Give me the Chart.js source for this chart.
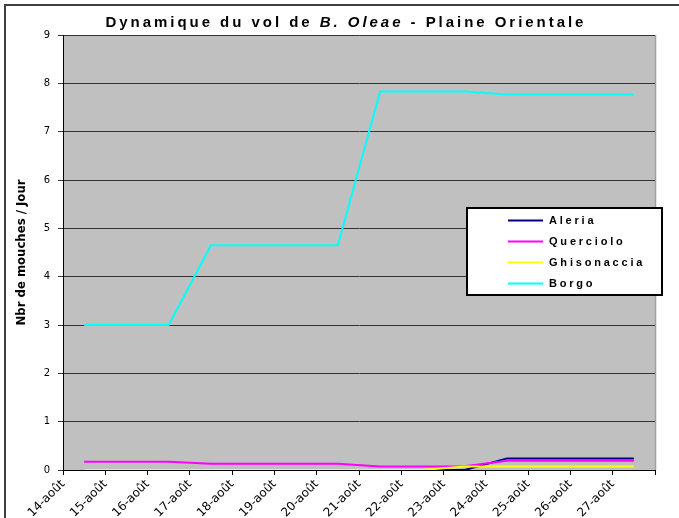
<!DOCTYPE html>
<html><head><meta charset="utf-8">
<script src="https://cdn.jsdelivr.net/npm/chart.js@4/dist/chart.umd.min.js"></script>
<style>html,body{margin:0;padding:0;background:#fff}#wrap{width:679px;height:518px;position:relative}</style>
</head><body><div id="wrap"><canvas id="c" width="679" height="518"></canvas></div>
<script>
// ---- data ----
const categories = ['14-août','15-août','16-août','17-août','18-août','19-août','20-août','21-août','22-août','23-août','24-août','25-août','26-août','27-août'];
const seriesNames = ['Aleria','Querciolo','Ghisonaccia','Borgo'];
const aleria      = [0,0,0,0,0,0,0,0,0,0,0.24,0.24,0.24,0.24];
const querciolo   = [0.17,0.17,0.17,0.13,0.13,0.13,0.13,0.07,0.07,0.08,0.19,0.19,0.19,0.19];
const ghisonaccia = [0,0,0,0,0,0,0,0,0,0.07,0.07,0.07,0.07,0.07];
const borgo       = [3,3,3,4.65,4.65,4.65,4.65,7.83,7.83,7.83,7.77,7.77,7.77,7.77];
const yTicks = [0,1,2,3,4,5,6,7,8,9];
const titleParts = [['Dynamique du vol de ', false], ['B. Oleae', true], [' - Plaine Orientale', false]];
const yAxisTitle = 'Nbr de mouches / Jour';
const seriesColors = ['#000080','#FF00FF','#FFFF00','#00FFFF'];

const seriesValues = [aleria, querciolo, ghisonaccia, borgo];
const toPoints = arr => arr.map((v,i)=>({x:i+0.5,y:v}));

const bgPlugin = {
  id:'bg',
  beforeDraw(chart){
    const {ctx, chartArea:a} = chart;
    ctx.save();
    ctx.fillStyle='#fff'; ctx.fillRect(0,0,chart.width,chart.height);
    ctx.fillStyle='#C0C0C0'; ctx.fillRect(a.left,a.top,a.right-a.left,a.bottom-a.top);
    ctx.strokeStyle='#a0a0a0'; ctx.lineWidth=1.5;
    ctx.beginPath(); ctx.moveTo(a.right+0.5,a.top); ctx.lineTo(a.right+0.5,a.bottom); ctx.stroke();
    ctx.strokeStyle='#404040'; ctx.lineWidth=2;
    ctx.strokeRect(5,5,chart.width+20,chart.height+20);
    ctx.restore();
  }
};

const decoPlugin = {
  id:'deco',
  afterDraw(chart){
    const ctx = chart.ctx;
    ctx.save();
    // title
    const fam = '"Liberation Sans", Arial, sans-serif';
    const fontFor = it => (it ? 'italic ' : '') + 'bold 15px ' + fam;
    ctx.letterSpacing = '0px';
    let w0 = 0, n = 0;
    titleParts.forEach(([t,it])=>{ ctx.font = fontFor(it); w0 += ctx.measureText(t).width; n += t.length; });
    const targetW = 481;
    const ls = (targetW - w0)/n;
    ctx.letterSpacing = ls.toFixed(2)+'px';
    let x = 346 - targetW/2;
    ctx.fillStyle = '#000'; ctx.textBaseline='middle'; ctx.textAlign='left';
    titleParts.forEach(([t,it])=>{ ctx.font = fontFor(it); ctx.fillText(t, x, 23); x += ctx.measureText(t).width; });
    // legend
    const bx=467, by=208, bw=195, bh=87;
    ctx.letterSpacing = '0px';
    ctx.fillStyle='#fff'; ctx.fillRect(bx,by,bw,bh);
    ctx.strokeStyle='#000'; ctx.lineWidth=2; ctx.strokeRect(bx,by,bw,bh);
    ctx.font = 'bold 11px ' + fam;
    ctx.letterSpacing = '2.8px';
    chart.data.datasets.forEach((ds,i)=>{
      const y = by + 12.5 + i*21;
      ctx.strokeStyle = ds.borderColor; ctx.lineWidth=2;
      ctx.beginPath(); ctx.moveTo(508,y); ctx.lineTo(543,y); ctx.stroke();
      ctx.fillStyle='#000'; ctx.textBaseline='middle';
      ctx.fillText(ds.label, 549, y+0.5);
    });
    ctx.letterSpacing = '0px';
    ctx.restore();
  }
};

new Chart(document.getElementById('c'), {
  type:'line',
  data:{
    datasets: seriesNames.map((name,k)=>({
      label:name, data:toPoints(seriesValues[k]),
      borderColor:seriesColors[k], backgroundColor:seriesColors[k],
      borderWidth:2, pointRadius:0, tension:0, fill:false, order: 3-k
    }))
  },
  options:{
    responsive:false, animation:false,
    layout:{padding:{left:6,top:35,right:24,bottom:0}},
    plugins:{legend:{display:false}, title:{display:false}, tooltip:{enabled:false}},
    scales:{
      x:{
        type:'linear', min:0, max:categories.length,
        afterBuildTicks: s => { s.ticks = categories.map((c,i)=>({value:i})).concat([{value:categories.length}]); },
        ticks:{autoSkip:false, minRotation:45, maxRotation:45, padding:2,
          callback:(v)=> (categories[v] !== undefined ? categories[v] : ''),
          font:{family:'"DejaVu Sans", Verdana, sans-serif', size:12}, color:'#000'},
        grid:{drawOnChartArea:false, color:'#000', tickLength:5},
        border:{color:'#000', width:1},
        afterFit: s => { s.height = 48; }
      },
      y:{
        min:0, max:9,
        afterBuildTicks: s => { s.ticks = yTicks.map(v=>({value:v})); },
        ticks:{padding:8, font:{family:'"DejaVu Sans", Verdana, sans-serif', size:10}, color:'#000'},
        grid:{color:'#333', tickLength:5},
        border:{color:'#000', width:1},
        title:{display:true, text:yAxisTitle, color:'#000',
          font:{family:'"DejaVu Sans Condensed", "DejaVu Sans", sans-serif', weight:'bold', size:13},
          padding:{top:8,bottom:0}},
        afterFit: s => { s.width = 57; }
      }
    }
  },
  plugins:[bgPlugin, decoPlugin]
});
</script></body></html>
